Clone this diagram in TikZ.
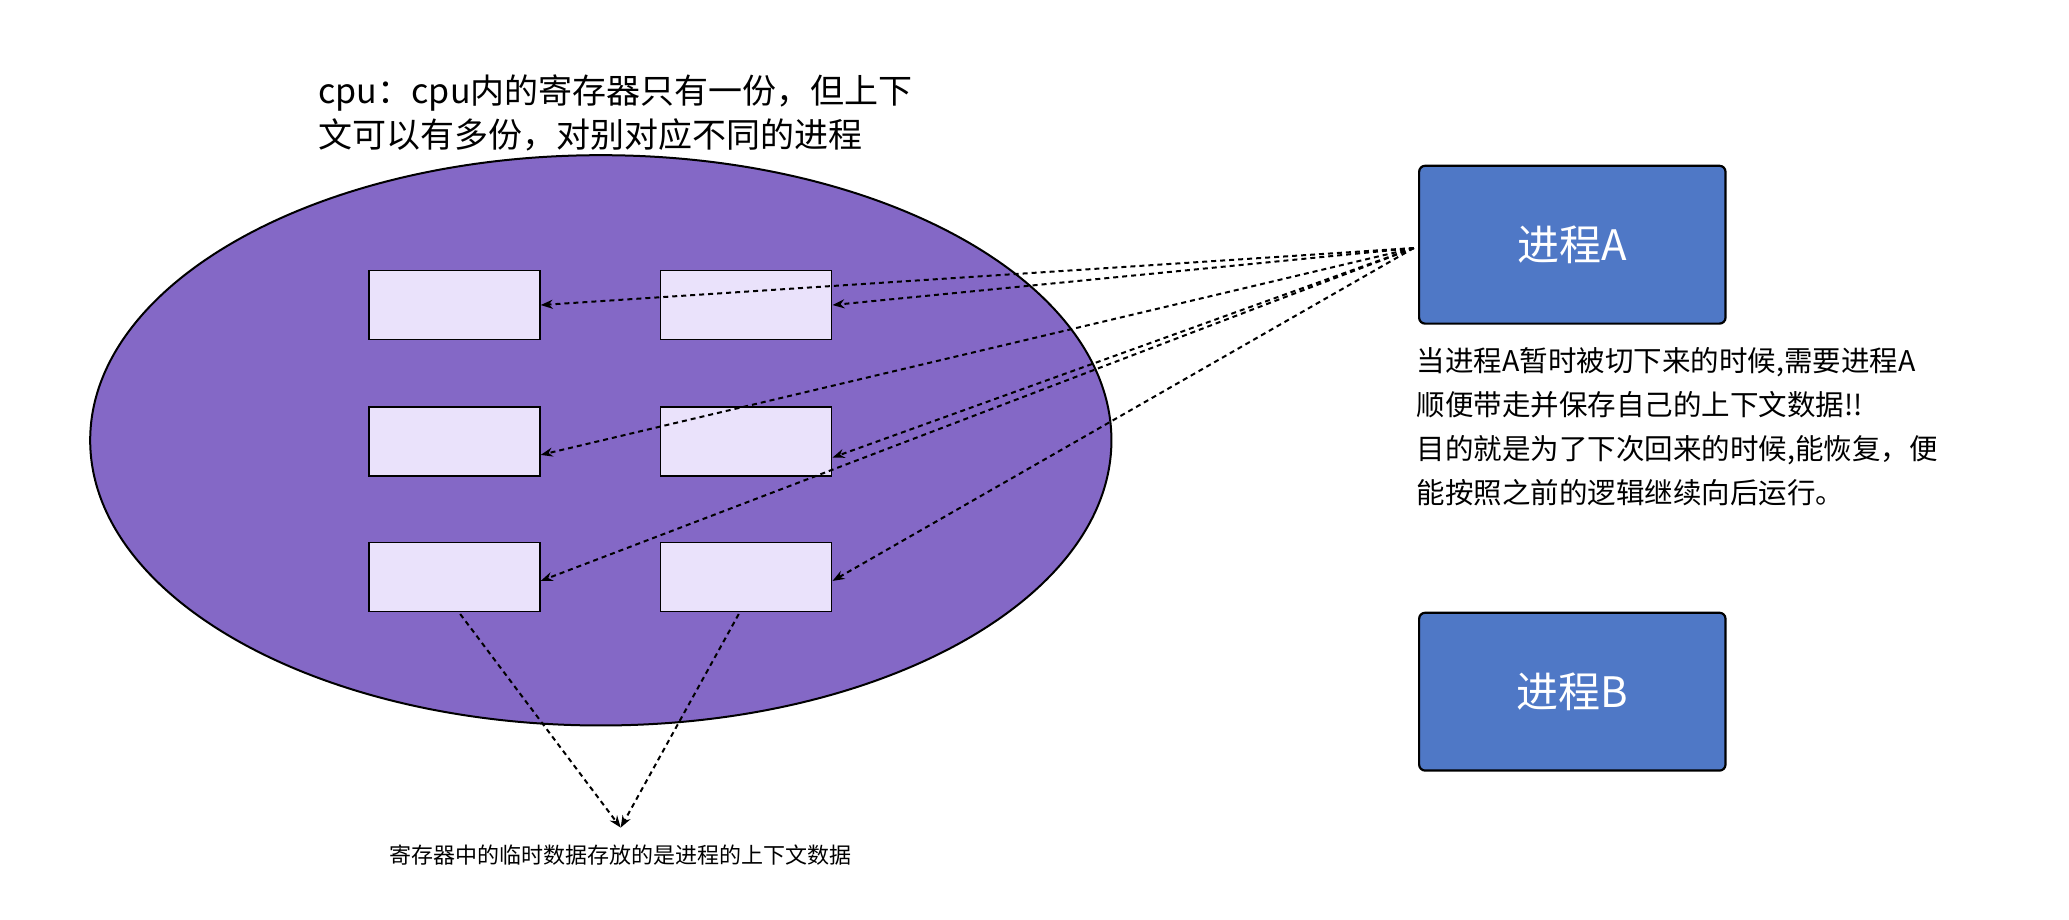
\documentclass[tikz,border=0pt]{standalone}
\usepackage{fontspec}
\setmainfont{Noto Sans CJK SC}
\usetikzlibrary{arrows.meta}
\definecolor{ell}{HTML}{8468C6}
\definecolor{reg}{HTML}{EAE2FB}
\definecolor{proc}{HTML}{4F78C6}
\begin{document}
\begin{tikzpicture}[x=1.326pt,y=-1.326pt,
  regbox/.style={draw=black,line width=1.8pt,fill=reg,minimum width=129*1.326pt,minimum height=52*1.326pt,inner sep=0pt},
  procbox/.style={draw=black,line width=2.2pt,fill=proc,rounded corners=6pt,minimum width=231*1.326pt,minimum height=119*1.326pt,text=white,font=\fontsize{42}{50}\selectfont},
  dar/.style={dashed,line width=2pt,dash pattern=on 5pt off 4pt,-{Stealth[length=12pt,width=9pt]}}]
\useasboundingbox (0,0) rectangle (1560,693);
\fill[white] (0,0) rectangle (1560,693);
\draw[line width=2pt,fill=ell] (453,332) ellipse [x radius=385*1.326pt,y radius=215*1.326pt];
\node[regbox] (r11) at (342.5,230) {};
\node[regbox] (r12) at (562.5,230) {};
\node[regbox] (r21) at (342.5,333) {};
\node[regbox] (r22) at (562.5,333) {};
\node[regbox] (r31) at (342.5,435) {};
\node[regbox] (r32) at (562.5,435) {};
\node[procbox] (A) at (1185.5,184.5) {进程A};
\node[procbox] (B) at (1185.5,521.5) {进程B};
\coordinate (s) at (1066,187);
\draw[dar] (s) -- (r11.east);
\draw[dar] (s) -- (r12.east);
\draw[dar] (s) -- ([yshift=-10*1.326pt]r21.east);
\draw[dar] (s) -- ([yshift=-12*1.326pt]r22.east);
\draw[dar] (s) -- ([yshift=-3*1.326pt]r31.east);
\draw[dar] (s) -- ([yshift=-3*1.326pt]r32.east);
\coordinate (t1) at (347,463);
\coordinate (t2) at (557,463);
\coordinate (m) at (468,624);
\draw[dar] (t1) -- (m);
\draw[dar] (t2) -- (m);
\node[anchor=north west,align=left,inner sep=0pt,font=\fontsize{34}{44}\selectfont] (top) at (240,56) {cpu：cpu内的寄存器只有一份，但上下\\文可以有多份，对别对应不同的进程};
\node[anchor=north west,align=left,inner sep=0pt,font=\fontsize{28.5}{44}\selectfont] (note) at (1068,262) {当进程A暂时被切下来的时候,需要进程A\\顺便带走并保存自己的上下文数据!!\\目的就是为了下次回来的时候,能恢复，便\\能按照之前的逻辑继续向后运行。};
\node[font=\fontsize{22}{26}\selectfont] (bot) at (468,645) {寄存器中的临时数据存放的是进程的上下文数据};
\end{tikzpicture}
\end{document}
